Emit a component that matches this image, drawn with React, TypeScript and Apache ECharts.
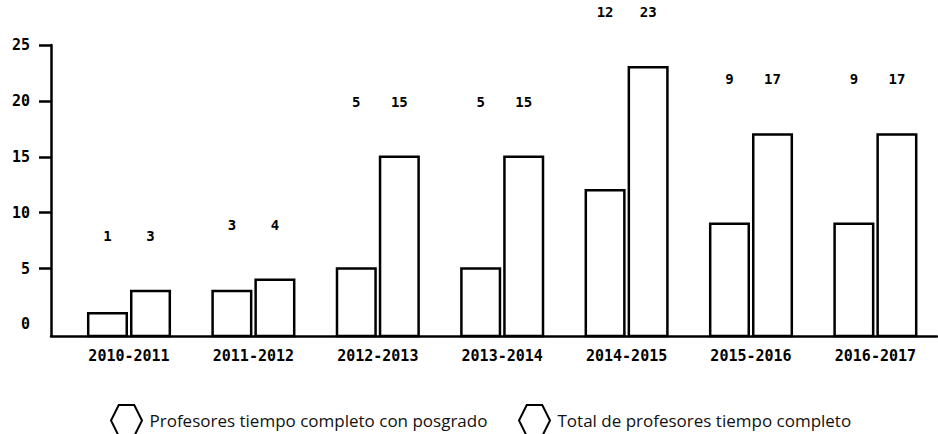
import React, { useEffect, useRef } from "react";
import * as echarts from "echarts";

const categories = ["2010-2011", "2011-2012", "2012-2013", "2013-2014", "2014-2015", "2015-2016", "2016-2017"];
const conPosgrado = [1, 3, 5, 5, 12, 9, 9];
const totalTiempoCompleto = [3, 4, 15, 15, 23, 17, 17];
const yLabelValues = [0, 5, 10, 15, 20, 25];
const yTickValues = [5, 10, 15, 20, 25];
const seriesNames = ["Profesores tiempo completo con posgrado", "Total de profesores tiempo completo"];

const Y_MIN = -1.03;
const Y_MAX = 25;
const MONO = '"DejaVu Sans Mono", monospace';
const HEX = "path://M25,0 L75,0 L100,50 L75,100 L25,100 L0,50 Z";

function makeRenderItem(side: number) {
  return (params: any, api: any) => {
    const i = api.value(0);
    const v = api.value(1);
    const band = api.size([1, 0])[0];
    const w = band * 0.31;
    const off = band * 0.173 * side;
    const top = api.coord([i, v]);
    const cs = params.coordSys;
    const base = cs.y + cs.height;
    const cx = top[0] + off;
    const peak = api.coord([i, Math.max(conPosgrado[i], totalTiempoCompleto[i])])[1];
    return {
      type: "group",
      children: [
        {
          type: "rect",
          shape: { x: cx - w / 2, y: top[1], width: w, height: base - top[1] },
          style: { fill: "#fff", stroke: "#000", lineWidth: 2.5 },
        },
        {
          type: "text",
          x: cx,
          y: peak - 55,
          style: {
            text: String(v),
            fill: "#000",
            font: "bold 14px " + MONO,
            align: "center",
            verticalAlign: "middle",
          },
        },
      ],
    };
  };
}

export default function App() {
  const ref = useRef<HTMLDivElement>(null);
  useEffect(() => {
    if (!ref.current) return;
    const chart = echarts.init(ref.current, undefined, { renderer: "svg" });
    const legendItem = (name: string) => ({
      name,
      icon: HEX,
      itemStyle: { color: "#fff", borderColor: "#000", borderWidth: 2 },
    });
    const legendText = { fontFamily: '"Open Sans", sans-serif', fontSize: 17, color: "#111" };
    chart.setOption({
      animation: false,
      backgroundColor: "#fff",
      grid: [
        { left: 66.8, right: 0.4, top: 45, bottom: 98, containLabel: false },
        { left: 51, right: 1, top: 45, bottom: 98, containLabel: false },
      ],
      legend: [
        {
          left: 105,
          top: 399,
          itemWidth: 36,
          itemHeight: 31,
          data: [legendItem(seriesNames[0])],
          textStyle: legendText,
          selectedMode: false,
        },
        {
          left: 513,
          top: 399,
          itemWidth: 36,
          itemHeight: 31,
          data: [legendItem(seriesNames[1])],
          textStyle: legendText,
          selectedMode: false,
        },
      ],
      xAxis: [
        {
          type: "category",
          gridIndex: 0,
          data: categories,
          axisLine: { show: false },
          axisTick: { show: false },
          axisLabel: { margin: 12, fontFamily: MONO, fontWeight: "bold", fontSize: 15, color: "#000" },
        },
        {
          type: "value",
          gridIndex: 1,
          min: 0,
          max: 1,
          axisLine: { show: true, onZero: false, lineStyle: { color: "#000", width: 2.5 } },
          axisTick: { show: false },
          axisLabel: { show: false },
          splitLine: { show: false },
        },
      ],
      yAxis: [
        { type: "value", gridIndex: 0, min: Y_MIN, max: Y_MAX, show: false },
        {
          type: "value",
          gridIndex: 1,
          min: Y_MIN,
          max: Y_MAX,
          axisLine: { show: true, onZero: false, lineStyle: { color: "#000", width: 2.5 } },
          axisTick: {
            show: true,
            length: 12,
            customValues: yTickValues,
            lineStyle: { color: "#000", width: 2.5 },
          },
          axisLabel: {
            customValues: yLabelValues,
            margin: 21,
            fontFamily: MONO,
            fontWeight: "bold",
            fontSize: 15,
            color: "#000",
          },
          splitLine: { show: false },
        },
      ],
      series: [
        {
          name: seriesNames[0],
          type: "custom",
          xAxisIndex: 0,
          yAxisIndex: 0,
          itemStyle: { color: "#fff", borderColor: "#000", borderWidth: 2 },
          renderItem: makeRenderItem(-1),
          encode: { x: 0, y: 1 },
          data: conPosgrado.map((v, i) => [i, v]),
        },
        {
          name: seriesNames[1],
          type: "custom",
          xAxisIndex: 0,
          yAxisIndex: 0,
          itemStyle: { color: "#fff", borderColor: "#000", borderWidth: 2 },
          renderItem: makeRenderItem(1),
          encode: { x: 0, y: 1 },
          data: totalTiempoCompleto.map((v, i) => [i, v]),
        },
      ],
    });
    return () => chart.dispose();
  }, []);
  return (
    <div
      ref={ref}
      style={{ position: "fixed", left: 0, top: 0, width: 938, height: 434, background: "#fff" }}
    />
  );
}
